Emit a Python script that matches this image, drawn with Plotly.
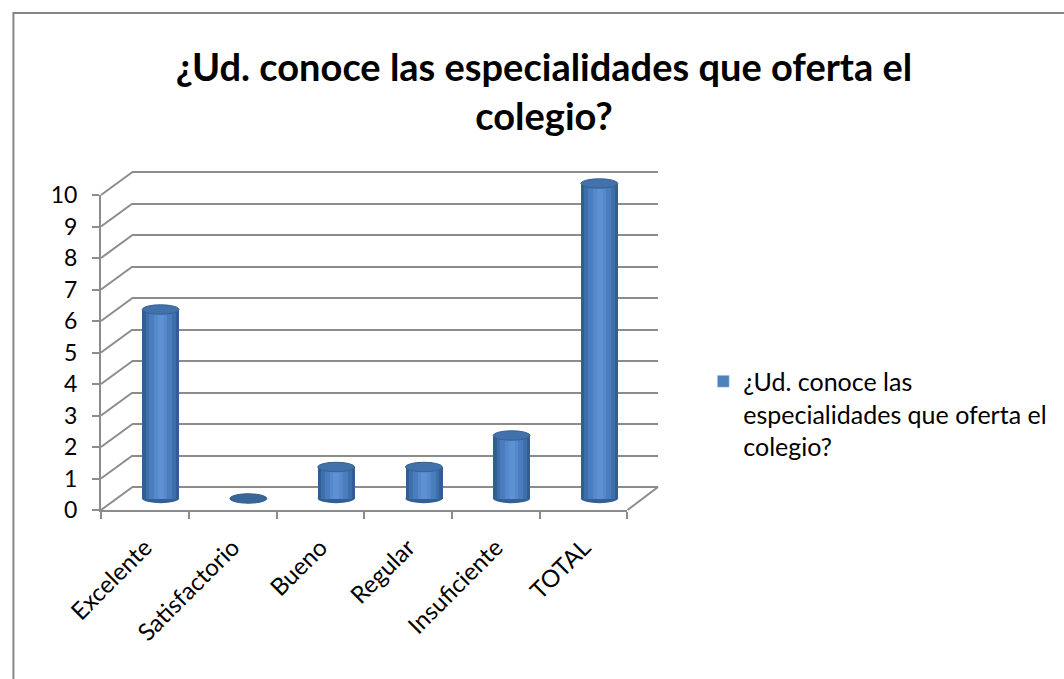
import plotly.graph_objects as go

# ---------------- data ----------------
categories = ["Excelente", "Satisfactorio", "Bueno", "Regular", "Insuficiente", "TOTAL"]
values = [6, 0, 1, 1, 2, 10]
series_name = "¿Ud. conoce las especialidades que oferta el colegio?"
legend_label = "¿Ud. conoce las<br>especialidades que oferta el<br>colegio?"
title_text = "<b>¿Ud. conoce las especialidades que oferta el<br>colegio?</b>"
y_ticks = list(range(0, 11))

# ---------------- geometry (pixels) ----------------
W, H = 1064, 679
L, R_ = 101, 667          # plot area left/right
T, B = 168, 510           # plot area top/bottom
pw, ph = R_ - L, B - T
dx, dy = 32, 23           # depth offset (front -> back wall)
front_w = 535             # front floor width
unit = 31.5               # px per value unit
front_h = 10 * unit       # 315

FONT = "Lato"
GRID = "#8C8C8C"

fig = go.Figure()

# front axes need a trace to be drawn
fig.add_trace(go.Scatter(x=categories, y=[None] * len(categories), xaxis="x", yaxis="y",
                         showlegend=False, hoverinfo="skip"))
# back wall axes
fig.add_trace(go.Scatter(x=[None], y=[None], xaxis="x2", yaxis="y2", showlegend=False,
                         hoverinfo="skip"))

# cylinder bodies (layered bars to fake the round shading)
layers = [(0.42, "#335E93"), (0.35, "#3F6FAB"), (0.26, "#4A7DBE"), (0.15, "#5689CB"), (0.07, "#5E91D3")]
for i, (w, c) in enumerate(layers):
    fig.add_trace(go.Bar(
        x=categories, y=values, width=w, marker=dict(color=c, line=dict(width=0)),
        xaxis="x3", yaxis="y3", name=series_name, showlegend=False,
        hoverinfo="x+y" if i == 0 else "skip",
    ))
# legend entry
fig.add_trace(go.Bar(x=[categories[0]], y=[None], name=legend_label,
                     marker=dict(color="#4F81BD"), xaxis="x3", yaxis="y3", showlegend=True))

shapes = []
cap_w, cap_h = 0.42, 0.30
for i, v in enumerate(values):
    # rounded bottom
    shapes.append(dict(type="circle", xref="x3", yref="y3", layer="between",
                       x0=i - cap_w / 2, x1=i + cap_w / 2, y0=-cap_h / 2, y1=cap_h / 2,
                       fillcolor="#345F94", line=dict(width=0)))
    # top cap
    shapes.append(dict(type="circle", xref="x3", yref="y3", layer="above",
                       x0=i - cap_w / 2, x1=i + cap_w / 2, y0=v - cap_h / 2, y1=v + cap_h / 2,
                       fillcolor="#4271AC" if v > 0 else "#38659A",
                       line=dict(width=1, color="#35608F")))

# left wall diagonals (front y-axis ticks -> back wall grid lines)
for v in y_ticks:
    shapes.append(dict(type="line", xref="paper", yref="paper", layer="below",
                       x0=0, x1=dx / pw, y0=v * unit / ph, y1=(v * unit + dy) / ph,
                       line=dict(color=GRID, width=2)))
# right floor diagonal
shapes.append(dict(type="line", xref="paper", yref="paper", layer="below",
                   x0=front_w / pw, x1=1, y0=0, y1=dy / ph, line=dict(color=GRID, width=2)))
# chart border
shapes.append(dict(type="rect", xref="paper", yref="paper", layer="below",
                   x0=(12 - L) / pw, x1=2, y0=-1, y1=(B - 13) / ph,
                   line=dict(color="#868686", width=2), fillcolor="rgba(0,0,0,0)"))

mid_dx, mid_dy = dx / 2, dy / 2

fig.update_layout(
    width=W, height=H,
    margin=dict(l=L, r=W - R_, t=T, b=H - B, pad=0),
    paper_bgcolor="white", plot_bgcolor="rgba(0,0,0,0)",
    barmode="overlay", bargap=0,
    font=dict(family=FONT, color="black", size=22),
    title=dict(text=title_text, x=544 / W, xanchor="center", y=1 - 81 / H, yanchor="top",
               font=dict(family=FONT, size=38, color="black")),
    showlegend=True,
    legend=dict(x=(713 - L) / pw, xanchor="left", y=(B - 414) / ph, yanchor="middle",
                font=dict(family=FONT, size=25), bgcolor="rgba(0,0,0,0)", itemwidth=30,
                borderwidth=0, valign="top", tracegroupgap=0),
    # front axes (labels, ticks, front edges)
    xaxis=dict(domain=[0, front_w / pw], type="category", categoryarray=categories,
               categoryorder="array", anchor="y",
               range=[-0.5, len(categories) - 0.5], showgrid=False, zeroline=False,
               showline=True, linecolor=GRID, linewidth=2,
               ticks="outside", tickson="boundaries", ticklen=7, tickcolor=GRID, tickwidth=2,
               ticklabelstandoff=12,
               tickangle=-45, tickfont=dict(family=FONT, size=24, color="black")),
    yaxis=dict(domain=[0, front_h / ph], range=[0, 10], tickvals=y_ticks, showgrid=False,
               anchor="x", ticklabelstandoff=10,
               zeroline=False, showline=True, linecolor=GRID, linewidth=2,
               ticks="outside", ticklen=7, tickcolor=GRID, tickwidth=2,
               tickfont=dict(family=FONT, size=23, color="black")),
    # back wall axes (grid lines)
    xaxis2=dict(domain=[dx / pw, 1], range=[-0.5, len(categories) - 0.5], visible=False,
                anchor="y2"),
    yaxis2=dict(domain=[0, 1], range=[-dy / unit, (ph - dy) / unit], anchor="x2",
                tickvals=y_ticks, showticklabels=False, ticks="",
                showgrid=True, gridcolor=GRID, gridwidth=2, zeroline=False, showline=False),
    # mid-depth axes (cylinders)
    xaxis3=dict(domain=[mid_dx / pw, (front_w + mid_dx) / pw], type="category",
                categoryarray=categories, categoryorder="array",
                range=[-0.5, len(categories) - 0.5],
                visible=False, anchor="y3"),
    yaxis3=dict(domain=[0, 1], range=[-mid_dy / unit, (ph - mid_dy) / unit], visible=False,
                anchor="x3"),
    shapes=shapes,
)

fig.write_html("out.html", config={"displayModeBar": False},
               post_script="document.body.style.margin='0';")
